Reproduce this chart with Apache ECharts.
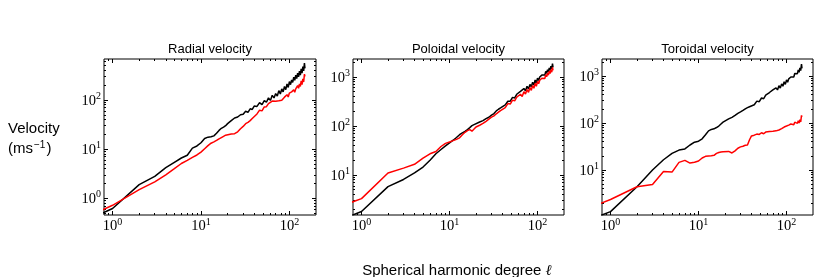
<!DOCTYPE html>
<html><head><meta charset="utf-8">
<script src="https://cdn.jsdelivr.net/npm/echarts@6/dist/echarts.min.js"></script>
<style>html,body{margin:0;padding:0;background:#fff}#c{width:830px;height:277px}</style>
</head><body><div id="c"></div>
<script>
// Spherical harmonic degree (shared x values)
const ell = [0.7,
  1,2,3,4,5,6,7,8,9,10,
  11,12,13,14,15,16,17,18,19,20,
  22,24,26,28,30,32,34,36,38,40,
  43,46,49,52,55,58,61,64,67,70,
  73,76,79,82,85,88,91,94,97,100,
  103,106,109,112,115,118,121,124,127,130,
  133,136,139,142,145,148,150];

// Radial velocity
const radialBlack = [0.46,
  0.62,1.9,2.8,4.2,5.4,6.6,7.5,10.5,11.6,13.5,
  16.5,17.5,17.8,18.6,21,24,26.5,28,30,33,
  38,43,45,50,51,59,56,66,64,75,
  74,88,80,97,90,110,98,124,110,135,
  120,155,132,168,146,188,162,212,180,236,
  205,255,228,290,250,320,272,350,295,385,
  320,430,350,480,390,560,440];
const radialRed = [0.54,
  0.72,1.5,2.15,3.0,4.0,5.1,5.9,6.8,7.6,8.7,
  10.2,11.8,13.2,14,15,16.2,17.2,18.2,19.2,19.8,
  20.2,20.6,22.5,26,29,33,35,38,42,46,
  52,62,60,72,73,84,84,95,90,94,
  88,96,89,99,99,114,111,128,115,138,
  127,146,136,160,144,168,156,196,172,212,
  188,245,206,268,232,335,300];

// Poloidal velocity
const poloidalBlack = [1.4,
  1.8,5.8,8.1,11,14.5,20,27,33,39,45,
  51,58,66,72,77,84,92,101,106,112,
  120,128,140,150,166,178,202,218,232,252,
  268,318,318,380,370,440,415,505,465,575,
  520,640,565,700,625,775,680,860,750,940,
  840,990,910,1080,990,1180,1080,1290,1170,1400,
  1260,1520,1350,1650,1440,1850,1560];
const poloidalRed = [2.6,
  3.3,11,13.8,16.5,22,27,30,38,44,47,
  50,53,57,66,74,80,84,78,86,95,
  103,112,124,137,150,160,176,190,205,222,
  235,285,278,335,322,385,360,440,398,495,
  445,548,482,605,530,662,585,735,638,805,
  720,850,780,930,850,1010,920,1100,1000,1200,
  1080,1300,1160,1400,1240,1560,1350];

// Toroidal velocity
const toroidalBlack = [1.0,
  1.3,4.4,10,16.5,22.5,26.5,28,34,39,41,
  46,56,68,73,75,80,86,95,104,112,
  122,132,145,160,172,185,200,212,222,236,
  245,292,284,340,328,392,366,445,410,505,
  460,560,505,620,552,680,605,755,665,825,
  740,870,800,950,880,1040,950,1130,1040,1240,
  1120,1350,1200,1480,1300,1800,1450];
const toroidalRed = [1.8,
  2.35,4.4,4.9,9.3,9.0,14.5,16,14,14.6,15.5,
  18,19.5,19.8,20,20.5,22.5,23.5,24,24.3,24.6,
  24.8,23,25.5,29,31,32,33.5,34,44,53,
  55,58,57,62,59,64,60,66,61,67,
  63,68,65,71,68,76,72,82,77,86,
  80,90,85,95,88,100,92,104,95,110,
  98,112,100,118,105,145,135];

const panelTitles = ['Radial velocity', 'Poloidal velocity', 'Toroidal velocity'];
const xMajorTicks = [1, 10, 100];
const xMinorTicks = [0.9, 2,3,4,5,6,7,8,9, 20,30,40,50,60,70,80,90];
const yMajorTicks = [[1,10,100], [10,100,1000], [10,100,1000]];
const yMinorTicks = [
  [0.5,0.6,0.7,0.8,0.9, 2,3,4,5,6,7,8,9, 20,30,40,50,60,70,80,90, 200,300,400,500,600],
  [2,3,4,5,6,7,8,9, 20,30,40,50,60,70,80,90, 200,300,400,500,600,700,800,900, 2000],
  [2,3,4,5,6,7,8,9, 20,30,40,50,60,70,80,90, 200,300,400,500,600,700,800,900, 2000]
];
const panelData = [[radialBlack, radialRed], [poloidalBlack, poloidalRed], [toroidalBlack, toroidalRed]];

const chart = echarts.init(document.getElementById('c'), null, {renderer: 'canvas', width: 830, height: 277});
const serif = "'Liberation Serif', 'DejaVu Serif', serif";
const sans = "'Liberation Sans', Arial, sans-serif";
const rich = {
  b: {fontFamily: serif, fontSize: 14.5, color: '#000', verticalAlign: 'bottom'},
  s: {fontFamily: serif, fontSize: 10, color: '#000', verticalAlign: 'top', padding: [0, 0, 7, 0]}
};
const fmt = v => '{b|10}{s|' + Math.round(Math.log10(v)) + '}';

const gridPos = [{left: 104, width: 212}, {left: 353, width: 211}, {left: 602, width: 211}];
const yRange = [[0.457, 681], [1.53, 2300], [1.1, 2300]];

const grids = [], xAxes = [], yAxes = [], series = [];
function axis(p, pos, min, max, ticks, len, labels, margin) {
  return {
    gridIndex: p, type: 'log', logBase: 10, min: min, max: max, position: pos,
    axisLine: {show: false}, splitLine: {show: false}, minorTick: {show: false},
    axisTick: {show: true, inside: true, length: len, customValues: ticks, lineStyle: {color: '#000', width: 1}},
    axisLabel: labels ? {show: true, customValues: labels, formatter: fmt, rich: rich, margin: margin} : {show: false}
  };
}
for (let p = 0; p < 3; p++) {
  grids.push({left: gridPos[p].left, top: 59, width: gridPos[p].width, height: 156,
    show: true, borderColor: '#000', borderWidth: 1, backgroundColor: 'transparent',
    containLabel: false, outerBoundsMode: 'none'});
  xAxes.push(axis(p, 'bottom', 0.8, 200, xMajorTicks, 4, xMajorTicks, 2));
  xAxes.push(axis(p, 'bottom', 0.8, 200, xMinorTicks, 2, null));
  xAxes.push(axis(p, 'top', 0.8, 200, xMajorTicks, 4, null));
  xAxes.push(axis(p, 'top', 0.8, 200, xMinorTicks, 2, null));
  const [y0, y1] = yRange[p];
  yAxes.push(axis(p, 'left', y0, y1, yMajorTicks[p], 4, yMajorTicks[p], 3));
  yAxes.push(axis(p, 'left', y0, y1, yMinorTicks[p], 2, null));
  yAxes.push(axis(p, 'right', y0, y1, yMajorTicks[p], 4, null));
  yAxes.push(axis(p, 'right', y0, y1, yMinorTicks[p], 2, null));
  const colors = ['#000000', '#ff0000'];
  panelData[p].forEach((vals, k) => {
    series.push({
      type: 'line', xAxisIndex: p * 4, yAxisIndex: p * 4, symbol: 'none', clip: true,
      lineStyle: {color: colors[k], width: 1.5}, itemStyle: {color: colors[k]},
      data: ell.map((l, i) => [l, vals[i]])
    });
  });
}

const txt = (x, y, text, size, align, extra) => Object.assign({
  type: 'text', x: x, y: y,
  style: Object.assign({text: text, fontSize: size, fontFamily: sans, fill: '#000',
    align: align, textAlign: align, verticalAlign: 'middle', textVerticalAlign: 'middle'}, extra || {})
});
const graphic = [
  txt(210, 49, panelTitles[0], 13, 'center'),
  txt(458.5, 49, panelTitles[1], 13, 'center'),
  txt(707.5, 49, panelTitles[2], 13, 'center'),
  txt(8, 129, 'Velocity', 15, 'left'),
  txt(8, 149, '(ms{s|\u22121})', 15, 'left', {rich: {s: {fontFamily: sans, fontSize: 10, fill: '#000', color: '#000', verticalAlign: 'top', padding: [0, 1, 7, 1]}}}),
  txt(457, 271, 'Spherical harmonic degree {l|\u2113}', 15, 'center', {rich: {l: {fontFamily: serif, fontStyle: 'italic', fontSize: 15, fill: '#000', color: '#000'}}})
];

chart.setOption({
  animation: false,
  backgroundColor: '#fff',
  grid: grids, xAxis: xAxes, yAxis: yAxes, series: series, graphic: graphic
});
</script></body></html>
